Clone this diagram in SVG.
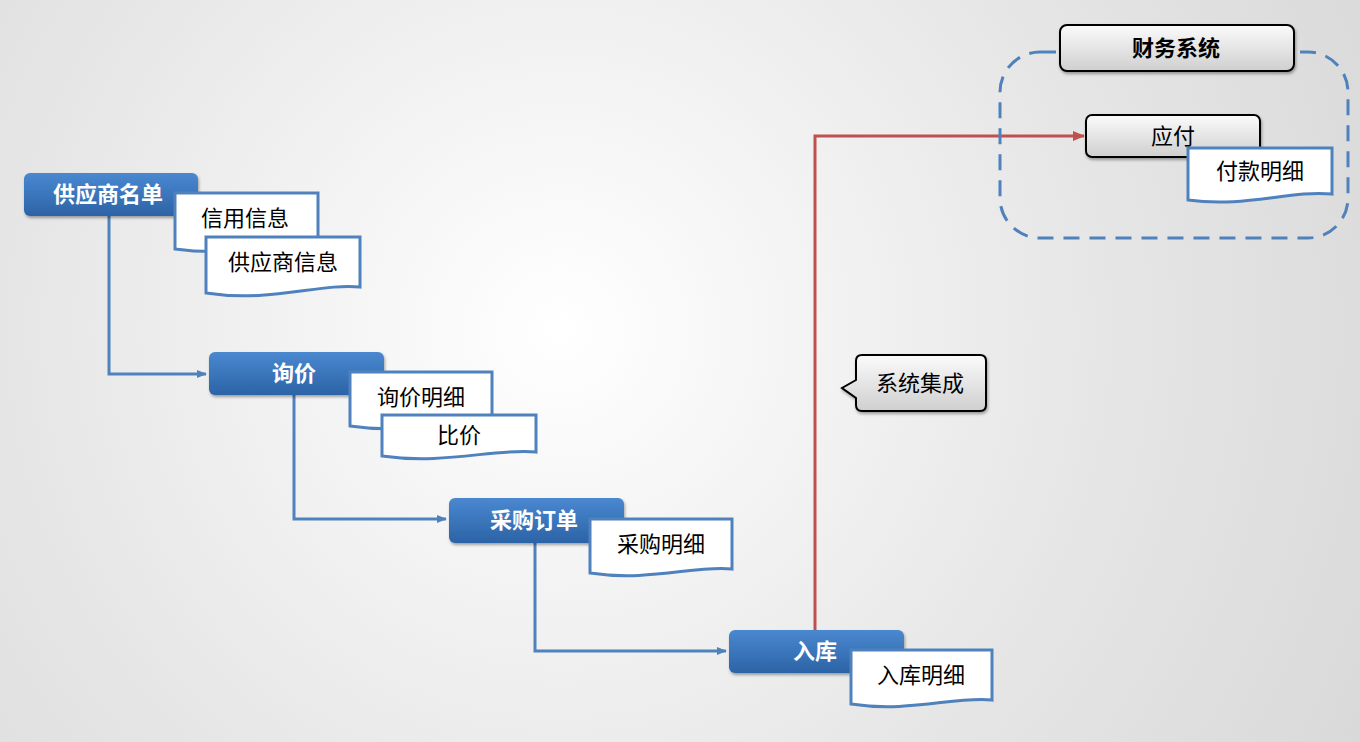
<svg xmlns="http://www.w3.org/2000/svg" width="1360" height="742" viewBox="0 0 1360 742">
<defs>
<radialGradient id="bg" cx="560" cy="330" r="900" gradientUnits="userSpaceOnUse"><stop offset="0" stop-color="#ffffff"/><stop offset="0.6" stop-color="#e6e6e6"/><stop offset="1" stop-color="#d9d9d9"/></radialGradient>
<linearGradient id="blue" x1="0" y1="0" x2="0" y2="1"><stop offset="0" stop-color="#4a88d0"/><stop offset="1" stop-color="#2c63a6"/></linearGradient>
<linearGradient id="gray" x1="0" y1="0" x2="0" y2="1"><stop offset="0" stop-color="#fbfbfb"/><stop offset="1" stop-color="#cfcfcf"/></linearGradient>
<filter id="sh" x="-10%" y="-20%" width="130%" height="150%"><feDropShadow dx="1" dy="2" stdDeviation="1.5" flood-opacity="0.35"/></filter>
<marker id="ab" markerWidth="10" markerHeight="10" refX="9" refY="5" orient="auto" markerUnits="userSpaceOnUse"><path d="M0,1 L10,5 L0,9 Z" fill="#4f81bd"/></marker>
<marker id="ar" markerWidth="12" markerHeight="10" refX="11" refY="5" orient="auto" markerUnits="userSpaceOnUse"><path d="M0,0 L12,5 L0,10 Z" fill="#c0504d"/></marker>
</defs>
<style>
.bn{fill:url(#blue);filter:url(#sh)}
.bt{font-family:"Liberation Sans","Noto Sans CJK SC",sans-serif;font-size:22px;font-weight:bold;fill:#fff;text-anchor:middle}
.doc{fill:#fff;stroke:#4f81bd;stroke-width:3}
.dt{font-family:"Liberation Sans","Noto Sans CJK SC",sans-serif;font-size:22px;fill:#000;text-anchor:middle}
.gn{fill:url(#gray);stroke:#000;stroke-width:2;filter:url(#sh)}
.c{fill:none;stroke:#4f81bd;stroke-width:3}
</style>
<rect width="1360" height="742" fill="url(#bg)"/>
<g id="connectors">
<path class="c" d="M109,216 V374 H206" marker-end="url(#ab)"/>
<path class="c" d="M294,395 V519 H446" marker-end="url(#ab)"/>
<path class="c" d="M535,543 V651 H726" marker-end="url(#ab)"/>
<path d="M815,630 V136 H1084" fill="none" stroke="#c0504d" stroke-width="3" marker-end="url(#ar)"/>
</g>
<g id="finance-group">
<rect x="1000" y="52" width="348" height="186" rx="40" fill="none" stroke="#4f81bd" stroke-width="3" stroke-dasharray="16,10"/>
</g>
<g id="n1"><rect class="bn" x="24" y="173" width="174" height="43" rx="6"/><text class="bt" x="108" y="202">供应商名单</text></g>
<g id="d1"><path class="doc" d="M175,193 H318 V245 C280,240 240,258 175,249 Z"/><text class="dt" x="245" y="226">信用信息</text></g>
<g id="d2"><path class="doc" d="M206,237 H360 V287 C320,283 270,303 206,293 Z"/><text class="dt" x="283" y="270">供应商信息</text></g>
<g id="n2"><rect class="bn" x="209" y="352" width="175" height="43" rx="6"/><text class="bt" x="294" y="381">询价</text></g>
<g id="d3"><path class="doc" d="M350,372 H492 V422 C455,418 410,435 350,426 Z"/><text class="dt" x="421" y="405">询价明细</text></g>
<g id="d4"><path class="doc" d="M382,415 H536 V452 C495,448 445,465 382,456 Z"/><text class="dt" x="459" y="443">比价</text></g>
<g id="n3"><rect class="bn" x="449" y="498" width="175" height="45" rx="6"/><text class="bt" x="534" y="528">采购订单</text></g>
<g id="d5"><path class="doc" d="M590,519 H732 V569 C695,565 650,582 590,573 Z"/><text class="dt" x="661" y="552">采购明细</text></g>
<g id="n4"><rect class="bn" x="729" y="630" width="175" height="43" rx="6"/><text class="bt" x="815" y="659">入库</text></g>
<g id="d6"><path class="doc" d="M851,650 H992 V700 C955,696 910,713 851,704 Z"/><text class="dt" x="921" y="683">入库明细</text></g>
<g id="callout"><path class="gn" d="M862,355 H980 Q986,355 986,361 V405 Q986,411 980,411 H862 Q856,411 856,405 V398 L842,388 L856,380 V361 Q856,355 862,355 Z"/><text class="dt" x="920" y="391">系统集成</text></g>
<g id="finance"><rect class="gn" x="1060" y="25" width="234" height="46" rx="7"/><text class="dt" x="1176" y="56" font-weight="bold">财务系统</text></g>
<g id="payable"><rect class="gn" x="1086" y="115" width="174" height="42" rx="6"/><text class="dt" x="1173" y="144">应付</text></g>
<g id="d7"><path class="doc" d="M1188,148 H1332 V194 C1290,190 1245,208 1188,200 Z"/><text class="dt" x="1260" y="179">付款明细</text></g>
</svg>
